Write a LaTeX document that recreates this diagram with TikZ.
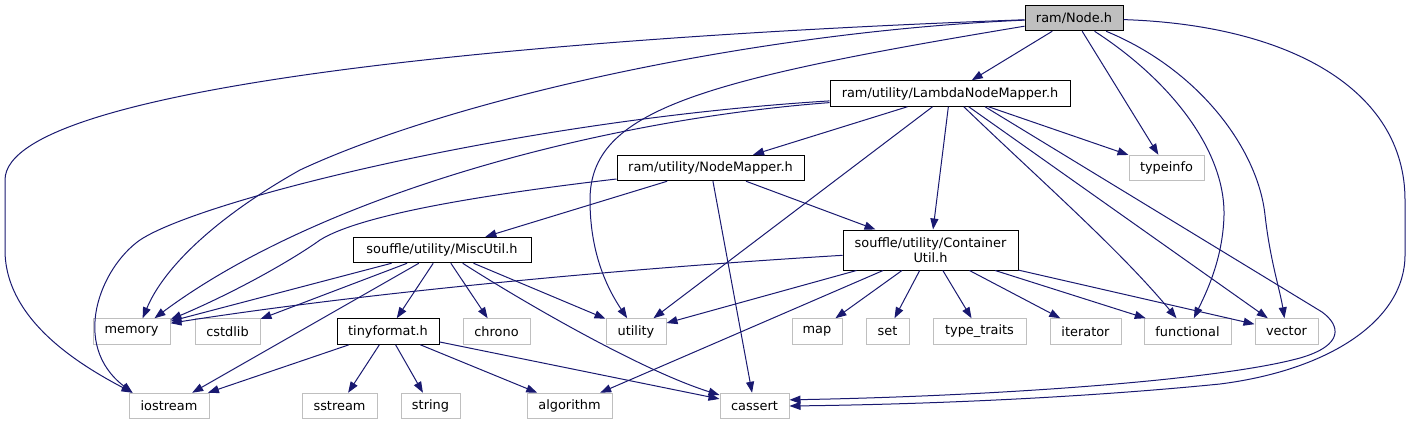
\documentclass[tikz,border=0pt]{standalone}
\usepackage{fontspec}
\setmainfont{DejaVu Sans}
\usetikzlibrary{arrows.meta}
\definecolor{edgecol}{HTML}{191970}
\definecolor{gborder}{HTML}{BFBFBF}
\definecolor{rootfill}{HTML}{BFBFBF}
\begin{document}
\begin{tikzpicture}[x=1pt,y=-1pt,
  box/.style={line width=1pt, inner sep=0pt, minimum height=25.5pt,
    font=\fontsize{12.9}{14.5}\selectfont, text=black},
  doc/.style={box, draw=black},
  ext/.style={box, draw=gborder},
  root/.style={box, draw=black, fill=rootfill},
  dep/.style={draw=edgecol, line width=1pt, -{Triangle[length=11pt,width=8pt]}},
]
\useasboundingbox (0,0) rectangle (1412,425);

% nodes
\node[root, minimum width=98pt]  (node)   at (1074,18)    {ram/Node.h};
\node[doc, minimum width=240pt]  (lambda) at (950,93.5)   {ram/utility/LambdaNodeMapper.h};
\node[doc, minimum width=187pt]  (nmap)   at (710.5,168)  {ram/utility/NodeMapper.h};
\node[ext, minimum width=75pt]   (typeinfo) at (1166.5,168) {typeinfo};
\node[doc, minimum width=178pt]  (misc)   at (442,250)    {souffle/utility/MiscUtil.h};
\node[doc, minimum width=175pt, minimum height=40pt, align=center] (cont) at (930.5,250) {souffle/utility/Container\\Util.h};
\node[ext, minimum width=77pt]   (memory) at (131.5,331.5) {memory};
\node[ext, minimum width=65pt]   (cstdlib) at (227.5,331.5) {cstdlib};
\node[doc, minimum width=102pt]  (tiny)   at (388,331.5)  {tinyformat.h};
\node[ext, minimum width=67pt]   (chrono) at (496.5,331.5) {chrono};
\node[ext, minimum width=60pt]   (utility) at (636,331.5) {utility};
\node[ext, minimum width=50pt]   (map)    at (817,331.5)  {map};
\node[ext, minimum width=43pt]   (set)    at (887.5,331.5) {set};
\node[ext, minimum width=93pt]   (ttraits) at (979.5,331.5) {type\_traits};
\node[ext, minimum width=71pt]   (iterator) at (1085.5,331.5) {iterator};
\node[ext, minimum width=87pt]   (functional) at (1187.5,331.5) {functional};
\node[ext, minimum width=63pt]   (vector) at (1286.5,331.5) {vector};
\node[ext, minimum width=80pt]   (iostream) at (169,406)  {iostream};
\node[ext, minimum width=75pt]   (sstream) at (339.5,406) {sstream};
\node[ext, minimum width=59pt]   (string) at (430.5,406)  {string};
\node[ext, minimum width=85pt]   (algorithm) at (569.5,406) {algorithm};
\node[ext, minimum width=69pt]   (cassert) at (754.5,406) {cassert};

% ram/Node.h
\draw[dep] (node) -- (lambda);
\draw[dep] (node) -- (typeinfo);
\draw[dep] (node) .. controls (1170,80) and (1225,150) .. (1224,215) .. controls (1223,260) and (1205,295) .. (functional);
\draw[dep] (node) .. controls (1200,70) and (1258,150) .. (1265,215) .. controls (1270,260) and (1280,290) .. (vector);
\draw[dep] (node) .. controls (1290,25) and (1405,90) .. (1405,200) -- (1405,255) .. controls (1405,320) and (1330,370) .. (1220,384) .. controls (1100,396) and (950,404) .. (cassert.east);
\draw[dep] (node) .. controls (700,80) and (590,110) .. (590,200) .. controls (590,250) and (605,285) .. (utility);
\draw[dep] (node) .. controls (750,32) and (450,100) .. (300,170) .. controls (220,215) and (165,265) .. (memory.50);
\draw[dep] (node) .. controls (600,35) and (5,80) .. (5,180) -- (5,250) .. controls (5,320) and (80,365) .. (iostream.160);

% LambdaNodeMapper.h
\draw[dep] (lambda) -- (nmap);
\draw[dep] (lambda) -- (typeinfo);
\draw[dep] (lambda) .. controls (600,120) and (320,195) .. (memory.30);
\draw[dep] (lambda) .. controls (520,120) and (200,200) .. (140,240) .. controls (100,268) and (70,345) .. (iostream.160);
\draw[dep] (lambda) -- (utility);
\draw[dep] (lambda) -- (cont);
\draw[dep] (lambda) .. controls (1040,180) and (1120,250) .. (functional);
\draw[dep] (lambda) -- (vector);
\draw[dep] ([xshift=35pt]lambda.south) -- (1322,312) .. controls (1340,325) and (1345,345) .. (1300,358) .. controls (1220,380) and (1000,396) .. (cassert.10);

% NodeMapper.h
\draw[dep] (nmap) .. controls (480,195) and (360,215) .. (320,240) .. controls (295,258) and (240,290) .. (memory.17);
\draw[dep] (nmap) -- (misc);
\draw[dep] (nmap) -- (cassert);
\draw[dep] (nmap) -- (cont);

% MiscUtil.h
\draw[dep] (misc) -- (memory);
\draw[dep] (misc) -- (cstdlib);
\draw[dep] (misc) -- (iostream);
\draw[dep] (misc) -- (tiny);
\draw[dep] (misc) -- (chrono);
\draw[dep] (misc) -- (utility);
\draw[dep] (misc) .. controls (520,300) and (640,370) .. (cassert);

% tinyformat.h
\draw[dep] (tiny) -- (iostream);
\draw[dep] (tiny) -- (sstream);
\draw[dep] (tiny) -- (string);
\draw[dep] (tiny) -- (algorithm);
\draw[dep] (tiny) -- (cassert);

% ContainerUtil.h
\draw[dep] (cont) .. controls (600,270) and (350,295) .. (memory.12);
\draw[dep] (cont) -- (utility);
\draw[dep] (cont) -- (algorithm);
\draw[dep] (cont) -- (map);
\draw[dep] (cont) -- (set);
\draw[dep] (cont) -- (ttraits);
\draw[dep] (cont) -- (iterator);
\draw[dep] (cont) -- (functional);
\draw[dep] (cont) -- (vector);
\end{tikzpicture}
\end{document}
